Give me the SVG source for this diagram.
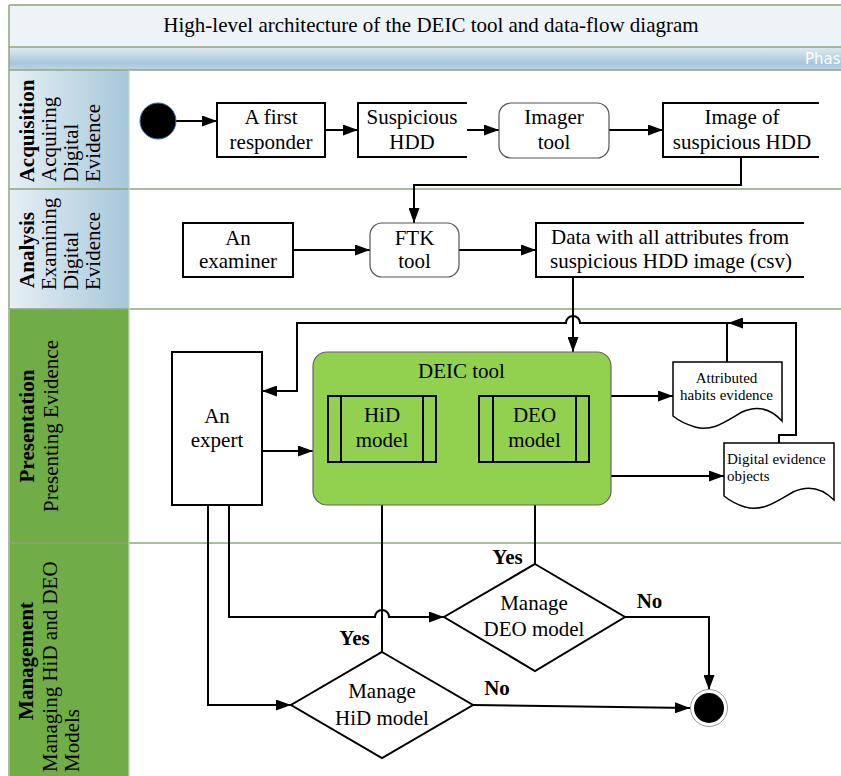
<svg xmlns="http://www.w3.org/2000/svg" width="841" height="776" viewBox="0 0 841 776">
<defs>
<style>
.t{font-family:"Liberation Serif","Times New Roman",serif;font-size:21px;fill:#000;text-anchor:middle}
.ts{font-family:"Liberation Serif","Times New Roman",serif;font-size:15px;fill:#000}
.b{font-weight:bold}
.st{text-anchor:start}
.box{fill:#fff;stroke:#000;stroke-width:2}
.rnd{fill:#fff;stroke:#555;stroke-width:1.2}
.open{fill:#fff;stroke:#000;stroke-width:2}
.c{fill:none;stroke:#000;stroke-width:2}
.ca{fill:none;stroke:#000;stroke-width:2;marker-end:url(#ah)}
.sep{stroke:#8ea67a;stroke-width:1.5}
</style>
<marker id="ah" markerWidth="15" markerHeight="11" refX="15" refY="5.5" orient="auto" markerUnits="userSpaceOnUse"><path d="M0,0 L15,5.5 L0,11 Z" fill="#000"/></marker>
<linearGradient id="hdrBlue" x1="0" y1="0" x2="1" y2="0"><stop offset="0" stop-color="#e6eff5"/><stop offset="1" stop-color="#a6c7da"/></linearGradient>
<linearGradient id="band" x1="0" y1="0" x2="0" y2="1"><stop offset="0" stop-color="#e0ebf2"/><stop offset="0.7" stop-color="#a8c8da"/><stop offset="1" stop-color="#bcd5e3"/></linearGradient>
</defs>

<g id="frame">
<rect x="9" y="5" width="840" height="780" fill="#fff"/>
<rect x="9" y="5" width="840" height="42" fill="#eef3f7"/>
<rect x="9" y="47" width="840" height="23" fill="url(#band)"/>
<text x="805" y="64" font-family="'DejaVu Sans',sans-serif" font-size="15" fill="#fff">Phas</text>
<rect x="10" y="70" width="119" height="119" fill="url(#hdrBlue)"/>
<rect x="10" y="189" width="119" height="120" fill="url(#hdrBlue)"/>
<rect x="10" y="309" width="119" height="234" fill="#70ad47"/>
<rect x="10" y="543" width="119" height="240" fill="#70ad47"/>
<line x1="9" y1="5" x2="841" y2="5" class="sep"/>
<line x1="9" y1="5" x2="9" y2="776" class="sep"/>
<line x1="9" y1="47" x2="841" y2="47" class="sep"/>
<line x1="9" y1="70" x2="841" y2="70" class="sep"/>
<line x1="9" y1="189" x2="841" y2="189" class="sep"/>
<line x1="9" y1="309" x2="841" y2="309" class="sep"/>
<line x1="9" y1="543" x2="841" y2="543" class="sep"/>
<line x1="129" y1="70" x2="129" y2="776" stroke="#c9d6bf" stroke-width="1.2"/>
<text class="t" x="431" y="32">High-level architecture of the DEIC tool and data-flow diagram</text>
</g>

<g id="lane-acquisition">
<text class="t b" transform="translate(34,131) rotate(-90)">Acquisition</text>
<text class="t st" transform="translate(56,182) rotate(-90)">Acquiring</text>
<text class="t st" transform="translate(78,182) rotate(-90)">Digital</text>
<text class="t st" transform="translate(100,182) rotate(-90)">Evidence</text>
</g>
<g id="lane-analysis">
<text class="t b" transform="translate(34,250) rotate(-90)">Analysis</text>
<text class="t st" transform="translate(56,290) rotate(-90)">Examining</text>
<text class="t st" transform="translate(78,290) rotate(-90)">Digital</text>
<text class="t st" transform="translate(100,290) rotate(-90)">Evidence</text>
</g>
<g id="lane-presentation">
<text class="t b" transform="translate(34,426) rotate(-90)">Presentation</text>
<text class="t" transform="translate(58,426) rotate(-90)">Presenting Evidence</text>
</g>
<g id="lane-management">
<text class="t b" transform="translate(33,661) rotate(-90)">Management</text>
<text class="t st" transform="translate(57,772) rotate(-90)">Managing HiD and DEO</text>
<text class="t st" transform="translate(79,772) rotate(-90)">Models</text>
</g>

<g id="connectors">
<path class="ca" d="M176,121 H217"/>
<path class="ca" d="M325,130 H358"/>
<path class="ca" d="M467,130 H499"/>
<path class="ca" d="M609,130 H663"/>
<path class="ca" d="M741,157 V185 H414 V223"/>
<path class="ca" d="M293,250 H370"/>
<path class="ca" d="M459,250 H536"/>
<path class="ca" d="M573,277 V352"/>
<path class="ca" d="M779,443 V435 H796 V323 H728"/>
<path class="ca" d="M727,362 V323 H580 a7,7 0 0 0 -14,0 H297 V391 H262"/>
<path class="ca" d="M611,396 H673"/>
<path class="ca" d="M611,476 H724"/>
<path class="ca" d="M262,451 H313"/>
<path class="ca" d="M229,505 V617 H375 a7,7 0 0 1 14,0 H444"/>
<path class="ca" d="M208,505 V705 H291"/>
<path class="ca" d="M382,652 V462"/>
<path class="ca" d="M535,564 V462"/>
<path class="ca" d="M625,617 H709 V690"/>
<path class="ca" d="M473,705 L690,708"/>
</g>

<g id="start"><circle cx="158" cy="121" r="18" fill="#000" stroke="#3d6f9e" stroke-width="1"/></g>

<g id="first-responder">
<rect class="box" x="217" y="103" width="108" height="54"/>
<text class="t" x="271" y="124">A first</text><text class="t" x="271" y="149">responder</text>
</g>
<g id="suspicious-hdd">
<path class="open" d="M467,103 H358 V157 H467"/>
<text class="t" x="412" y="124">Suspicious</text><text class="t" x="412" y="149">HDD</text>
</g>
<g id="imager-tool">
<rect class="rnd" x="499" y="103" width="110" height="55" rx="12"/>
<text class="t" x="554" y="124">Imager</text><text class="t" x="554" y="149">tool</text>
</g>
<g id="image-hdd">
<path class="open" d="M819,103 H663 V157 H819"/>
<text class="t" x="742" y="124">Image of</text><text class="t" x="742" y="149">suspicious HDD</text>
</g>

<g id="examiner">
<rect class="box" x="183" y="223" width="110" height="54"/>
<text class="t" x="238" y="245">An</text><text class="t" x="238" y="268">examiner</text>
</g>
<g id="ftk-tool">
<rect class="rnd" x="370" y="223" width="89" height="54" rx="12"/>
<text class="t" x="414.5" y="245">FTK</text><text class="t" x="414.5" y="268">tool</text>
</g>
<g id="data-csv">
<path class="open" d="M804,223 H536 V277 H804"/>
<text class="t" x="670" y="244">Data with all attributes from</text><text class="t" x="671" y="268">suspicious HDD image (csv)</text>
</g>

<g id="expert">
<rect class="box" x="172" y="352" width="90" height="153" stroke-width="1.5"/>
<text class="t" x="217" y="423">An</text><text class="t" x="217" y="447">expert</text>
</g>
<g id="deic-tool">
<rect x="313" y="352" width="298" height="153" rx="14" fill="#92d050" stroke="#666" stroke-width="1.2"/>
<text class="t" x="461.5" y="378">DEIC tool</text>
</g>
<g id="hid-model">
<rect x="328" y="396" width="108" height="66" fill="none" stroke="#000" stroke-width="2"/>
<line x1="341" y1="396" x2="341" y2="462" stroke="#000" stroke-width="2"/>
<line x1="423" y1="396" x2="423" y2="462" stroke="#000" stroke-width="2"/>
<text class="t" x="382" y="422">HiD</text><text class="t" x="382" y="447">model</text>
</g>
<g id="deo-model">
<rect x="479" y="396" width="110" height="66" fill="none" stroke="#000" stroke-width="2"/>
<line x1="493" y1="396" x2="493" y2="462" stroke="#000" stroke-width="2"/>
<line x1="576" y1="396" x2="576" y2="462" stroke="#000" stroke-width="2"/>
<text class="t" x="534.5" y="422">DEO</text><text class="t" x="534.5" y="447">model</text>
</g>
<g id="attributed-habits">
<path d="M673,362 H782 V421 C770,408 757,405 742,412 C725,422 712,432 695,427 C685,424 678,420 673,416 Z" fill="#fff" stroke="#000" stroke-width="1.5"/>
<text class="ts" x="726.5" y="383" text-anchor="middle">Attributed</text>
<text class="ts" x="726.5" y="400" text-anchor="middle">habits evidence</text>
</g>
<g id="digital-evidence">
<path d="M724,443 H834 V500 C822,488 808,485 793,492 C776,502 762,512 745,507 C735,504 729,500 724,496 Z" fill="#fff" stroke="#000" stroke-width="1.5"/>
<text class="ts" x="727" y="464">Digital evidence</text>
<text class="ts" x="727" y="481">objects</text>
</g>

<g id="manage-deo">
<polygon points="535,564 625,617 535,671 444,617" fill="#fff" stroke="#000" stroke-width="2"/>
<text class="t" x="534" y="610">Manage</text><text class="t" x="534" y="636">DEO model</text>
</g>
<g id="manage-hid">
<polygon points="382,652 473,705 382,758 291,705" fill="#fff" stroke="#000" stroke-width="2"/>
<text class="t" x="382" y="698">Manage</text><text class="t" x="382" y="725">HiD model</text>
</g>
<g id="labels">
<text class="t b" x="354.5" y="645" font-size="20">Yes</text>
<text class="t b" x="507.5" y="564" font-size="20">Yes</text>
<text class="t b" x="649.5" y="608" font-size="20">No</text>
<text class="t b" x="497" y="695" font-size="20">No</text>
</g>
<g id="end">
<circle cx="709" cy="708" r="18.5" fill="#fff" stroke="#999" stroke-width="1"/>
<circle cx="709" cy="708" r="15" fill="#000"/>
</g>
</svg>
